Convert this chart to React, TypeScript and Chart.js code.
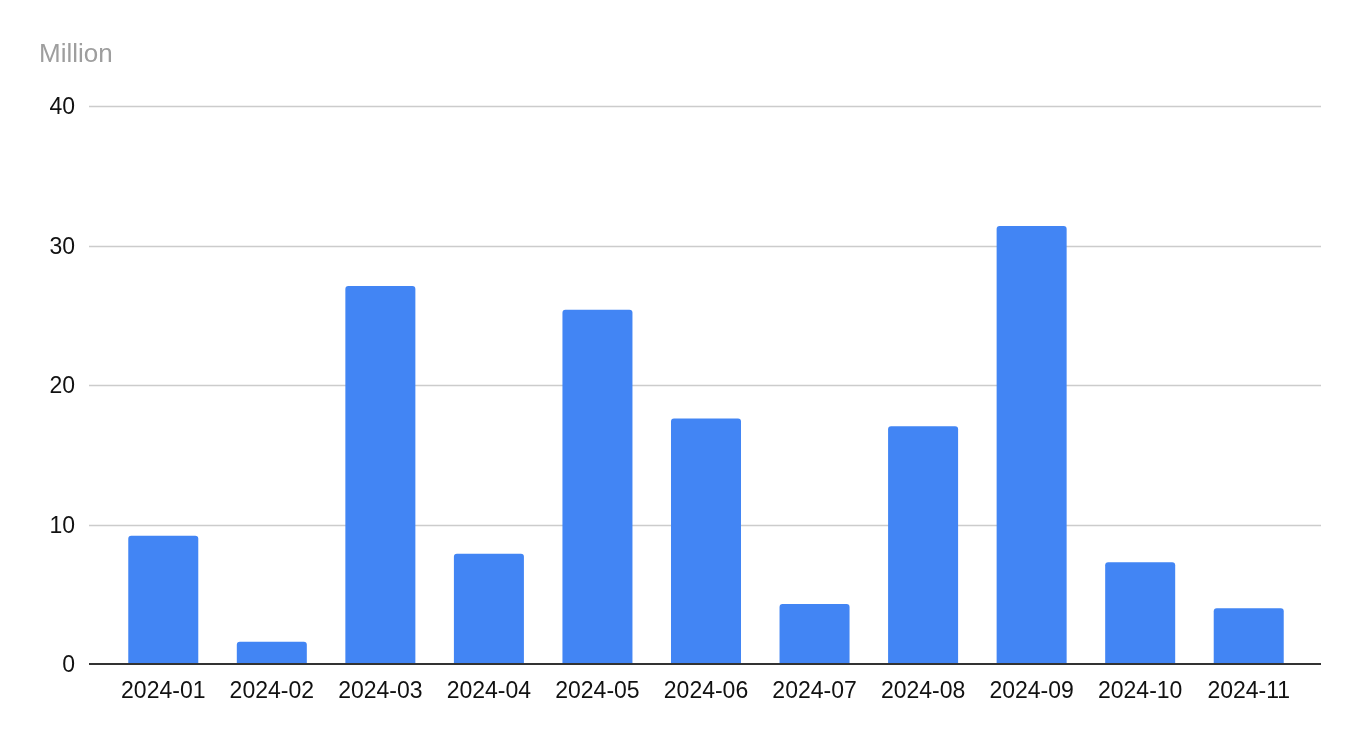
import React, { useEffect, useRef } from "react";
import { Chart, registerables } from "chart.js";

Chart.register(...registerables);

const categories = ["2024-01", "2024-02", "2024-03", "2024-04", "2024-05", "2024-06", "2024-07", "2024-08", "2024-09", "2024-10", "2024-11"];
const values = [9.2, 1.6, 27.1, 7.9, 25.4, 17.6, 4.3, 17.05, 31.4, 7.3, 4.0];
const yTicks = [0, 10, 20, 30, 40];
const unitLabel = "Million";

const FONT = "'Liberation Sans', Arial, sans-serif";

const extendedGrid = {
  id: "extendedGrid",
  beforeDatasetsDraw(chart: any) {
    const { ctx, chartArea, scales } = chart;
    const y = scales.y;
    const left = chartArea.left - 20;
    const right = chartArea.right + 18;
    ctx.save();
    ctx.strokeStyle = "#cccccc";
    ctx.lineWidth = 1.5;
    y.ticks.forEach((t: any) => {
      if (t.value === 0) return;
      const py = Math.round(y.getPixelForValue(t.value)) + 0.5;
      ctx.beginPath();
      ctx.moveTo(left, py);
      ctx.lineTo(right, py);
      ctx.stroke();
    });
    ctx.fillStyle = "#9e9e9e";
    ctx.font = `26px ${FONT}`;
    ctx.textBaseline = "middle";
    ctx.textAlign = "left";
    ctx.fillText(unitLabel, chartArea.left - 70, chartArea.top - 51);
    ctx.restore();
  },
  afterDatasetsDraw(chart: any) {
    const { ctx, chartArea, scales } = chart;
    const y = scales.y;
    const py = Math.round(y.getPixelForValue(0));
    ctx.save();
    ctx.strokeStyle = "#333333";
    ctx.lineWidth = 2;
    ctx.beginPath();
    ctx.moveTo(chartArea.left - 20, py);
    ctx.lineTo(chartArea.right + 18, py);
    ctx.stroke();
    ctx.restore();
  },
};

export default function App() {
  const ref = useRef<HTMLCanvasElement | null>(null);
  useEffect(() => {
    if (!ref.current) return;
    const chart = new Chart(ref.current, {
      type: "bar",
      data: {
        labels: categories,
        datasets: [
          {
            data: values,
            backgroundColor: "#4285f4",
            borderRadius: 3,
            barPercentage: 0.645,
            categoryPercentage: 1,
          },
        ],
      },
      options: {
        animation: false,
        responsive: false,
        maintainAspectRatio: false,
        layout: { padding: { left: 0, right: 55, top: 106, bottom: 0 } },
        plugins: { legend: { display: false }, tooltip: { enabled: false }, title: { display: false } },
        scales: {
          x: {
            grid: { display: false, drawTicks: false },
            border: { display: false },
            ticks: { color: "#111111", font: { family: FONT, size: 23 }, padding: 14, maxRotation: 0 },
            afterFit: (s: any) => {
              s.height = 78;
            },
          },
          y: {
            min: 0,
            max: 40,
            afterBuildTicks: (s: any) => {
              s.ticks = yTicks.map((v) => ({ value: v }));
            },
            grid: { display: false, drawTicks: false },
            border: { display: false },
            ticks: { color: "#111111", font: { family: FONT, size: 23 }, padding: 34, labelOffset: 2 },
            afterFit: (s: any) => {
              s.width = 109;
            },
          },
        },
      },
      plugins: [extendedGrid],
    });
    return () => chart.destroy();
  }, []);
  return (
    <div style={{ position: "fixed", left: 0, top: 0, width: 1358, height: 742, background: "#fff" }}>
      <canvas ref={ref} width={1358} height={742} style={{ display: "block" }} />
    </div>
  );
}
